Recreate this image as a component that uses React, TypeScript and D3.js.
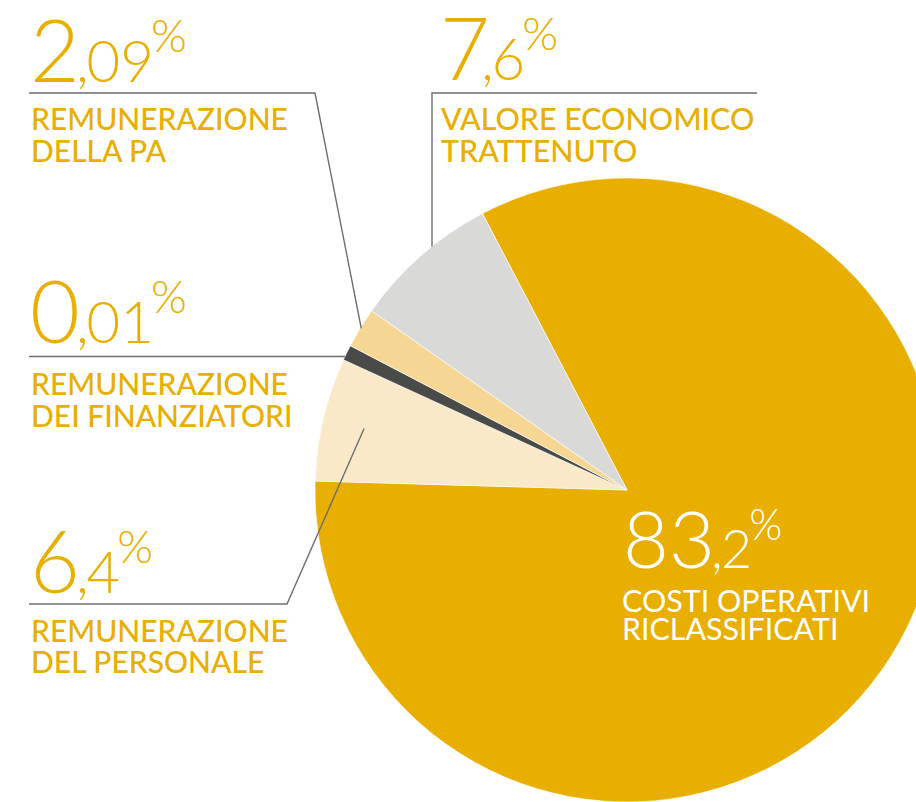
import React from 'react';
import * as d3 from 'd3';

// slice order follows the pie clockwise, starting from the big gold slice
const categories = [
  ['COSTI OPERATIVI', 'RICLASSIFICATI'],
  ['REMUNERAZIONE', 'DEL PERSONALE'],
  ['REMUNERAZIONE', 'DEI FINANZIATORI'],
  ['REMUNERAZIONE', 'DELLA PA'],
  ['VALORE ECONOMICO', 'TRATTENUTO'],
];
// slice sizes as drawn (the dark slice is drawn wider than its 0,01% label)
const sliceValues = [83.2, 6.4, 0.8, 2.09, 7.6];
const percentLabels = ['83,2', '6,4', '0,01', '2,09', '7,6'];
const colors = ['#e8ae00', '#fae9c8', '#4a4a48', '#f6d693', '#d9d9d7'];

const W = 916;
const H = 802;
const cx = 627;
const cy = 490;
const R = 312;
const gold = '#e8ae00';
const lineColor = '#6e6e6e';

const BigNumber = ({ text, x, y, color, scale = 1, commaShift = -4 }) => {
  const [intPart, decPart] = text.split(',');
  const big = 86 * scale;
  const small = 58 * scale;
  const pct = 46 * scale;
  return (
    <text x={x} y={y} fill={color} fontFamily="Lato" fontWeight={300}>
      <tspan fontSize={big}>{intPart}</tspan>
      <tspan fontSize={small} dx={commaShift * scale}>,</tspan>
      <tspan fontSize={small} dx={-2 * scale}>{decPart}</tspan>
      <tspan fontSize={pct} dy={-30 * scale} dx={-3 * scale}>%</tspan>
    </text>
  );
};

const App = () => {
  const pie = d3
    .pie<number>()
    .sort(null)
    .value((d) => d)
    .startAngle((-27.6 * Math.PI) / 180)
    .endAngle((-27.6 * Math.PI) / 180 + 2 * Math.PI);
  const arcs = pie(sliceValues);
  const arc = d3.arc<d3.PieArcDatum<number>>().innerRadius(0).outerRadius(R);

  const mid = (i) => (arcs[i].startAngle + arcs[i].endAngle) / 2;
  const pt = (a, r) => [cx + r * Math.sin(a), cy - r * Math.cos(a)];

  // leader line endpoints on the pie
  const pPers = pt(mid(1), 270);
  const finY = 356.5;
  const finX = cx - Math.sqrt(R * R - (finY - cy) ** 2);
  const pPa = pt(mid(3), R - 1);
  const valX = 432;
  const valY = cy - Math.sqrt(R * R - (valX - cx) ** 2);

  const labelFont = { fontFamily: 'Lato', fontSize: 30, fontWeight: 500 };

  return (
    <svg width={W} height={H} style={{ position: 'absolute', left: 0, top: 0, background: '#fff' }}>
      <g transform={`translate(${cx},${cy})`}>
        {arcs.map((a, i) => (
          <path key={i} d={arc(a)} fill={colors[i]} stroke="#fff" strokeWidth={0.6} />
        ))}
      </g>

      <g fill="none" stroke={lineColor} strokeWidth={1.4}>
        <polyline points={`29,604 287,604 ${pPers[0]},${pPers[1]}`} />
        <polyline points={`29,${finY} ${finX},${finY}`} />
        <polyline points={`29,93 315,93 ${pPa[0]},${pPa[1]}`} />
        <polyline points={`757,93 ${valX},93 ${valX},${valY}`} />
      </g>

      {/* costi operativi, inside the gold slice */}
      <BigNumber text={percentLabels[0]} x={623} y={568} color="#fff" scale={0.92} />
      <g fill="#fff" {...labelFont} fontSize={30.4} fontWeight={400}>
        <text x={622} y={612}>{categories[0][0]}</text>
        <text x={622} y={640}>{categories[0][1]}</text>
      </g>

      {/* personale */}
      <BigNumber text={percentLabels[1]} x={30} y={593} color={gold} />
      <g fill={gold} {...labelFont}>
        <text x={31} y={642}>{categories[1][0]}</text>
        <text x={31} y={673}>{categories[1][1]}</text>
      </g>

      {/* finanziatori */}
      <BigNumber text={percentLabels[2]} x={30} y={343} color={gold} />
      <g fill={gold} {...labelFont}>
        <text x={31} y={395}>{categories[2][0]}</text>
        <text x={31} y={427}>{categories[2][1]}</text>
      </g>

      {/* PA */}
      <BigNumber text={percentLabels[3]} x={30} y={82} color={gold} />
      <g fill={gold} {...labelFont}>
        <text x={31} y={130}>{categories[3][0]}</text>
        <text x={31} y={162}>{categories[3][1]}</text>
      </g>

      {/* valore trattenuto */}
      <BigNumber text={percentLabels[4]} x={440} y={80} color={gold} commaShift={-9} />
      <g fill={gold} {...labelFont} fontSize={30.4}>
        <text x={441} y={130}>{categories[4][0]}</text>
        <text x={441} y={162}>{categories[4][1]}</text>
      </g>
    </svg>
  );
};

export default App;
